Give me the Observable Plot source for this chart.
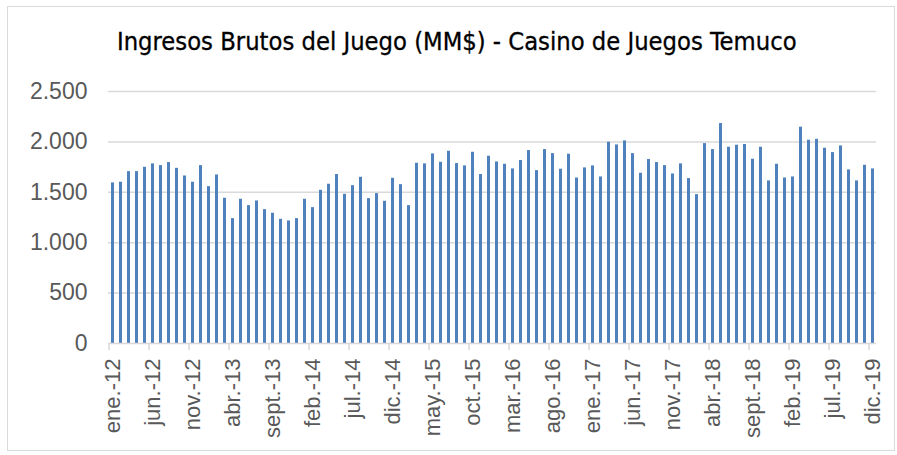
<!DOCTYPE html>
<html>
<head>
<meta charset="utf-8">
<script src="https://cdn.jsdelivr.net/npm/d3@7"></script>
<script src="https://cdn.jsdelivr.net/npm/@observablehq/plot@0.6"></script>
<style>
  html, body { margin: 0; padding: 0; background: #fff; width: 897px; height: 455px; overflow: hidden; }
  #frame { position: absolute; left: 7px; top: 6px; width: 888px; height: 445px; border: 1px solid #d9d9d9; box-sizing: border-box; }
  #title { position: absolute; top: 28px; left: 117px;
           font-family: "DejaVu Sans Condensed", "Liberation Sans Narrow", sans-serif; font-stretch: condensed; font-size: 25px; color: #000; white-space: nowrap; line-height: 1.2;
           -webkit-text-stroke: 0.3px #000; }
  #chart { position: absolute; left: 0; top: 70px; }
</style>
</head>
<body>
<div id="frame"></div>
<div id="title"><span id="titletext">Ingresos Brutos del Juego (MM$) - Casino de Juegos Temuco</span></div>
<div id="chart"></div>
<script>
const months = ["ene.", "feb.", "mar.", "abr.", "may.", "jun.", "jul.", "ago.", "sept.", "oct.", "nov.", "dic."];
const years = ["12", "13", "14", "15", "16", "17", "18", "19"];
const values2012 = [1593, 1600, 1705, 1705, 1748, 1782, 1765, 1795, 1738, 1662, 1600, 1765];
const values2013 = [1556, 1672, 1441, 1239, 1431, 1368, 1414, 1328, 1292, 1232, 1216, 1239];
const values2014 = [1431, 1348, 1520, 1580, 1676, 1480, 1566, 1649, 1437, 1487, 1411, 1639];
const values2015 = [1576, 1368, 1788, 1782, 1881, 1798, 1907, 1785, 1762, 1897, 1676, 1858];
const values2016 = [1801, 1778, 1732, 1815, 1914, 1715, 1924, 1884, 1729, 1878, 1642, 1742];
const values2017 = [1762, 1652, 1997, 1970, 2010, 1884, 1689, 1825, 1795, 1765, 1682, 1782];
const values2018 = [1636, 1477, 1983, 1924, 2182, 1947, 1967, 1974, 1828, 1947, 1613, 1778];
const values2019 = [1642, 1652, 2146, 2017, 2026, 1937, 1894, 1960, 1722, 1613, 1768, 1732];
const yTicks = [0, 500, 1000, 1500, 2000, 2500];

const valuesByYear = [values2012, values2013, values2014, values2015, values2016, values2017, values2018, values2019];
const data = [];
years.forEach((y, yi) => months.forEach((m, mi) => data.push({cat: `${m}-${y}`, value: valuesByYear[yi][mi]})));
const categories = data.map(d => d.cat);
const xTicks = categories.filter((c, i) => i % 5 === 0);

const fmt = d3.formatLocale({decimal: ",", thousands: ".", grouping: [3], currency: ["$", ""]}).format(",d");
const gray = "#595959";
const font = "Liberation Sans, Arial, sans-serif";

const chart = Plot.plot({
  width: 897,
  height: 385,
  marginLeft: 108,
  marginRight: 21,
  marginTop: 21,
  marginBottom: 112,
  style: {fontFamily: font, background: "transparent", overflow: "visible"},
  x: {domain: categories, type: "band", paddingInner: 0.65, paddingOuter: 0.325},
  y: {domain: [0, 2500]},
  marks: [
    Plot.ruleY(yTicks.filter(t => t > 0), {stroke: "#d9d9d9", strokeWidth: 1.5}),
    Plot.barY(data, {x: "cat", y: "value", fill: "#4f81bd"}),
    Plot.ruleY([0], {stroke: "#d9d9d9", strokeWidth: 1.5}),
    Plot.axisY({ticks: yTicks, tickSize: 0, tickPadding: 21, tickFormat: fmt, fontSize: 23, fill: gray, label: null}),
    Plot.axisX({ticks: xTicks, tickSize: 7, dx: -4, stroke: "#d9d9d9", strokeWidth: 1.5, tickFormat: () => "", label: null}),
    Plot.axisX({ticks: xTicks, tickSize: 0, tickPadding: 15, tickRotate: -90, fontSize: 22, fill: gray, label: null})
  ]
});
document.getElementById("chart").appendChild(chart);

// fit the title to the reference's width (117 to 797 px)
const t = document.getElementById("titletext");
const w = t.getBoundingClientRect().width;
const fs = 25 * 680 / w;
document.getElementById("title").style.fontSize = fs + "px";
document.getElementById("title").style.top = (42 - fs * 0.6) + "px";
</script>
</body>
</html>
